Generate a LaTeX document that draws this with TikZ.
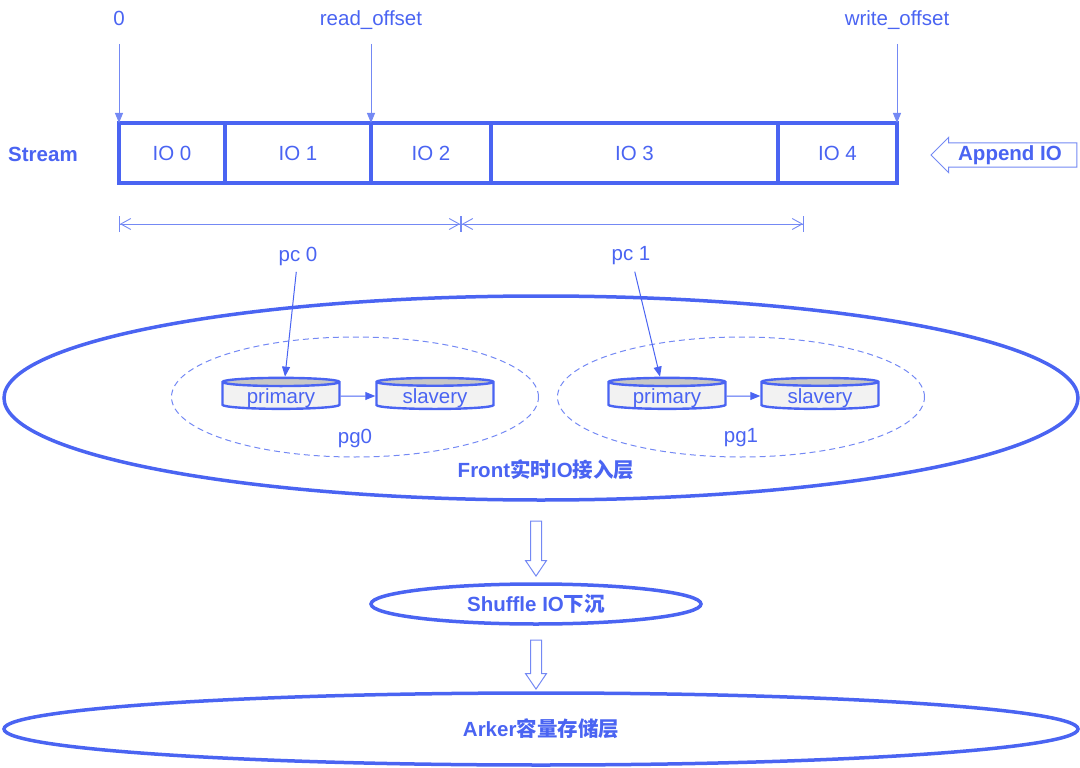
\documentclass[tikz,border=0pt]{standalone}
\usepackage{fontspec}
\setmainfont{Liberation Sans}
\newfontfamily\cjk{Noto Sans CJK SC}
\usetikzlibrary{arrows.meta, positioning, shapes.geometric, shapes.arrows}
\definecolor{ink}{HTML}{4A64F2}
\definecolor{pale}{HTML}{7489F4}
\newcommand{\zh}[1]{{\cjk #1}}

\begin{document}
\begin{tikzpicture}[x=1pt, y=-1pt, font=\fontsize{20.5}{24}\selectfont, text=ink,
    >={Triangle[length=10pt, width=8pt]}, node distance=0pt,
    cell/.style={draw=ink, line width=3.2pt, outer sep=0pt, minimum height=60pt, inner sep=0pt},
    tag/.style={text height=15pt, text depth=4.5pt},
    ptr/.style={->, pale, line width=1pt},
    dim/.style={pale, line width=0.9pt,
      {Bar[width=16pt]Straight Barb[length=10pt, width=11pt]}-{Straight Barb[length=10pt, width=11pt]Bar[width=16pt]}},
    disk/.style={cylinder, shape border rotate=90, aspect=0.12, draw=ink, line width=2.4pt,
      minimum width=117pt, minimum height=31pt, inner sep=0pt, text depth=0pt,
      cylinder uses custom fill, cylinder body fill=black!5, cylinder end fill=black!22},
    group/.style={ellipse, draw=pale, dash pattern=on 6pt off 4pt, line width=1pt,
      minimum width=367pt, minimum height=120pt},
    layer/.style={ellipse, draw=ink, line width=3.5pt, inner sep=0pt},
    hollow/.style={single arrow, draw=pale, line width=1pt, fill=white, minimum width=0pt,
      single arrow head extend=5pt, inner xsep=0pt, inner ysep=5pt}]

  \useasboundingbox (0,0) rectangle (1080,768);

  % the stream and its IOs
  \node[cell, minimum width=106pt] (io0) at (172,153) {IO 0};
  \node[cell, minimum width=146pt, right=of io0] (io1) {IO 1};
  \node[cell, minimum width=120pt, right=of io1] (io2) {IO 2};
  \node[cell, minimum width=287pt, right=of io2] (io3) {IO 3};
  \node[cell, minimum width=119pt, right=of io3] (io4) {IO 4};
  \node (stream) at (43,154) {\textbf{Stream}};

  \node[hollow, shape border rotate=180, minimum height=146pt, single arrow head extend=5.5pt,
    inner ysep=2pt] (append) at (1010,155) {\textbf{Append IO}};

  % offsets
  \node[tag, above=89pt of io0.north west] (off0) {0};
  \node[tag, above=89pt of io2.north west] (offr) {read\_offset};
  \node[tag, above=89pt of io4.north east] (offw) {write\_offset};
  \draw[ptr, shorten <=10pt] (off0) -- (io0.north west);
  \draw[ptr, shorten <=10pt] (offr) -- (io2.north west);
  \draw[ptr, shorten <=10pt] (offw) -- (io4.north east);

  % pc ranges
  \coordinate (d0) at (119,224);
  \coordinate (d1) at (461,224);
  \coordinate (d2) at (804,224);
  \draw[dim] (d0) -- (d1);
  \draw[dim] (d1) -- (d2);
  \node (pc0) at (298,256) {pc 0};
  \node (pc1) at (631,256) {pc 1};

  % front layer with two pgs
  \node[layer, minimum width=1074pt, minimum height=204pt] (front) at (541,398) {};
  \node (frontlbl) at (546,470) {\textbf{Front\zh{实时}IO\zh{接入层}}};
  \node[group] (pg0) at (355,397) {};
  \node[group] (pg1) at (741,397) {};
  \node (pg0lbl) at (355,438) {pg0};
  \node (pg1lbl) at (741,438) {pg1};
  \node[disk] (pri0) at (281,396) {primary};
  \node[disk] (sla0) at (435,396) {slavery};
  \node[disk] (pri1) at (667,396) {primary};
  \node[disk] (sla1) at (820,396) {slavery};
  \draw[ptr, ink] (pri0) -- (sla0);
  \draw[ptr, ink] (pri1) -- (sla1);
  \draw[ptr, ink, shorten <=3pt] (pc0) -- ([xshift=4pt]pri0.north);
  \draw[ptr, ink, shorten <=3pt] (pc1) -- ([xshift=-7pt]pri1.north);

  % lower layers
  \node[hollow, rotate=-90, minimum height=55pt, single arrow tip angle=68] (sink0) at (536,544.5) {};
  \node[layer, minimum width=330pt, minimum height=40pt] (shuffle) at (536,604) {\textbf{Shuffle IO\zh{下沉}}};
  \node[hollow, rotate=-90, minimum height=49pt, single arrow tip angle=68] (sink1) at (536,660.5) {};
  \node[layer, minimum width=1074pt, minimum height=72pt] (arker) at (541,729) {\textbf{Arker\zh{容量存储层}}};
\end{tikzpicture}
\end{document}
